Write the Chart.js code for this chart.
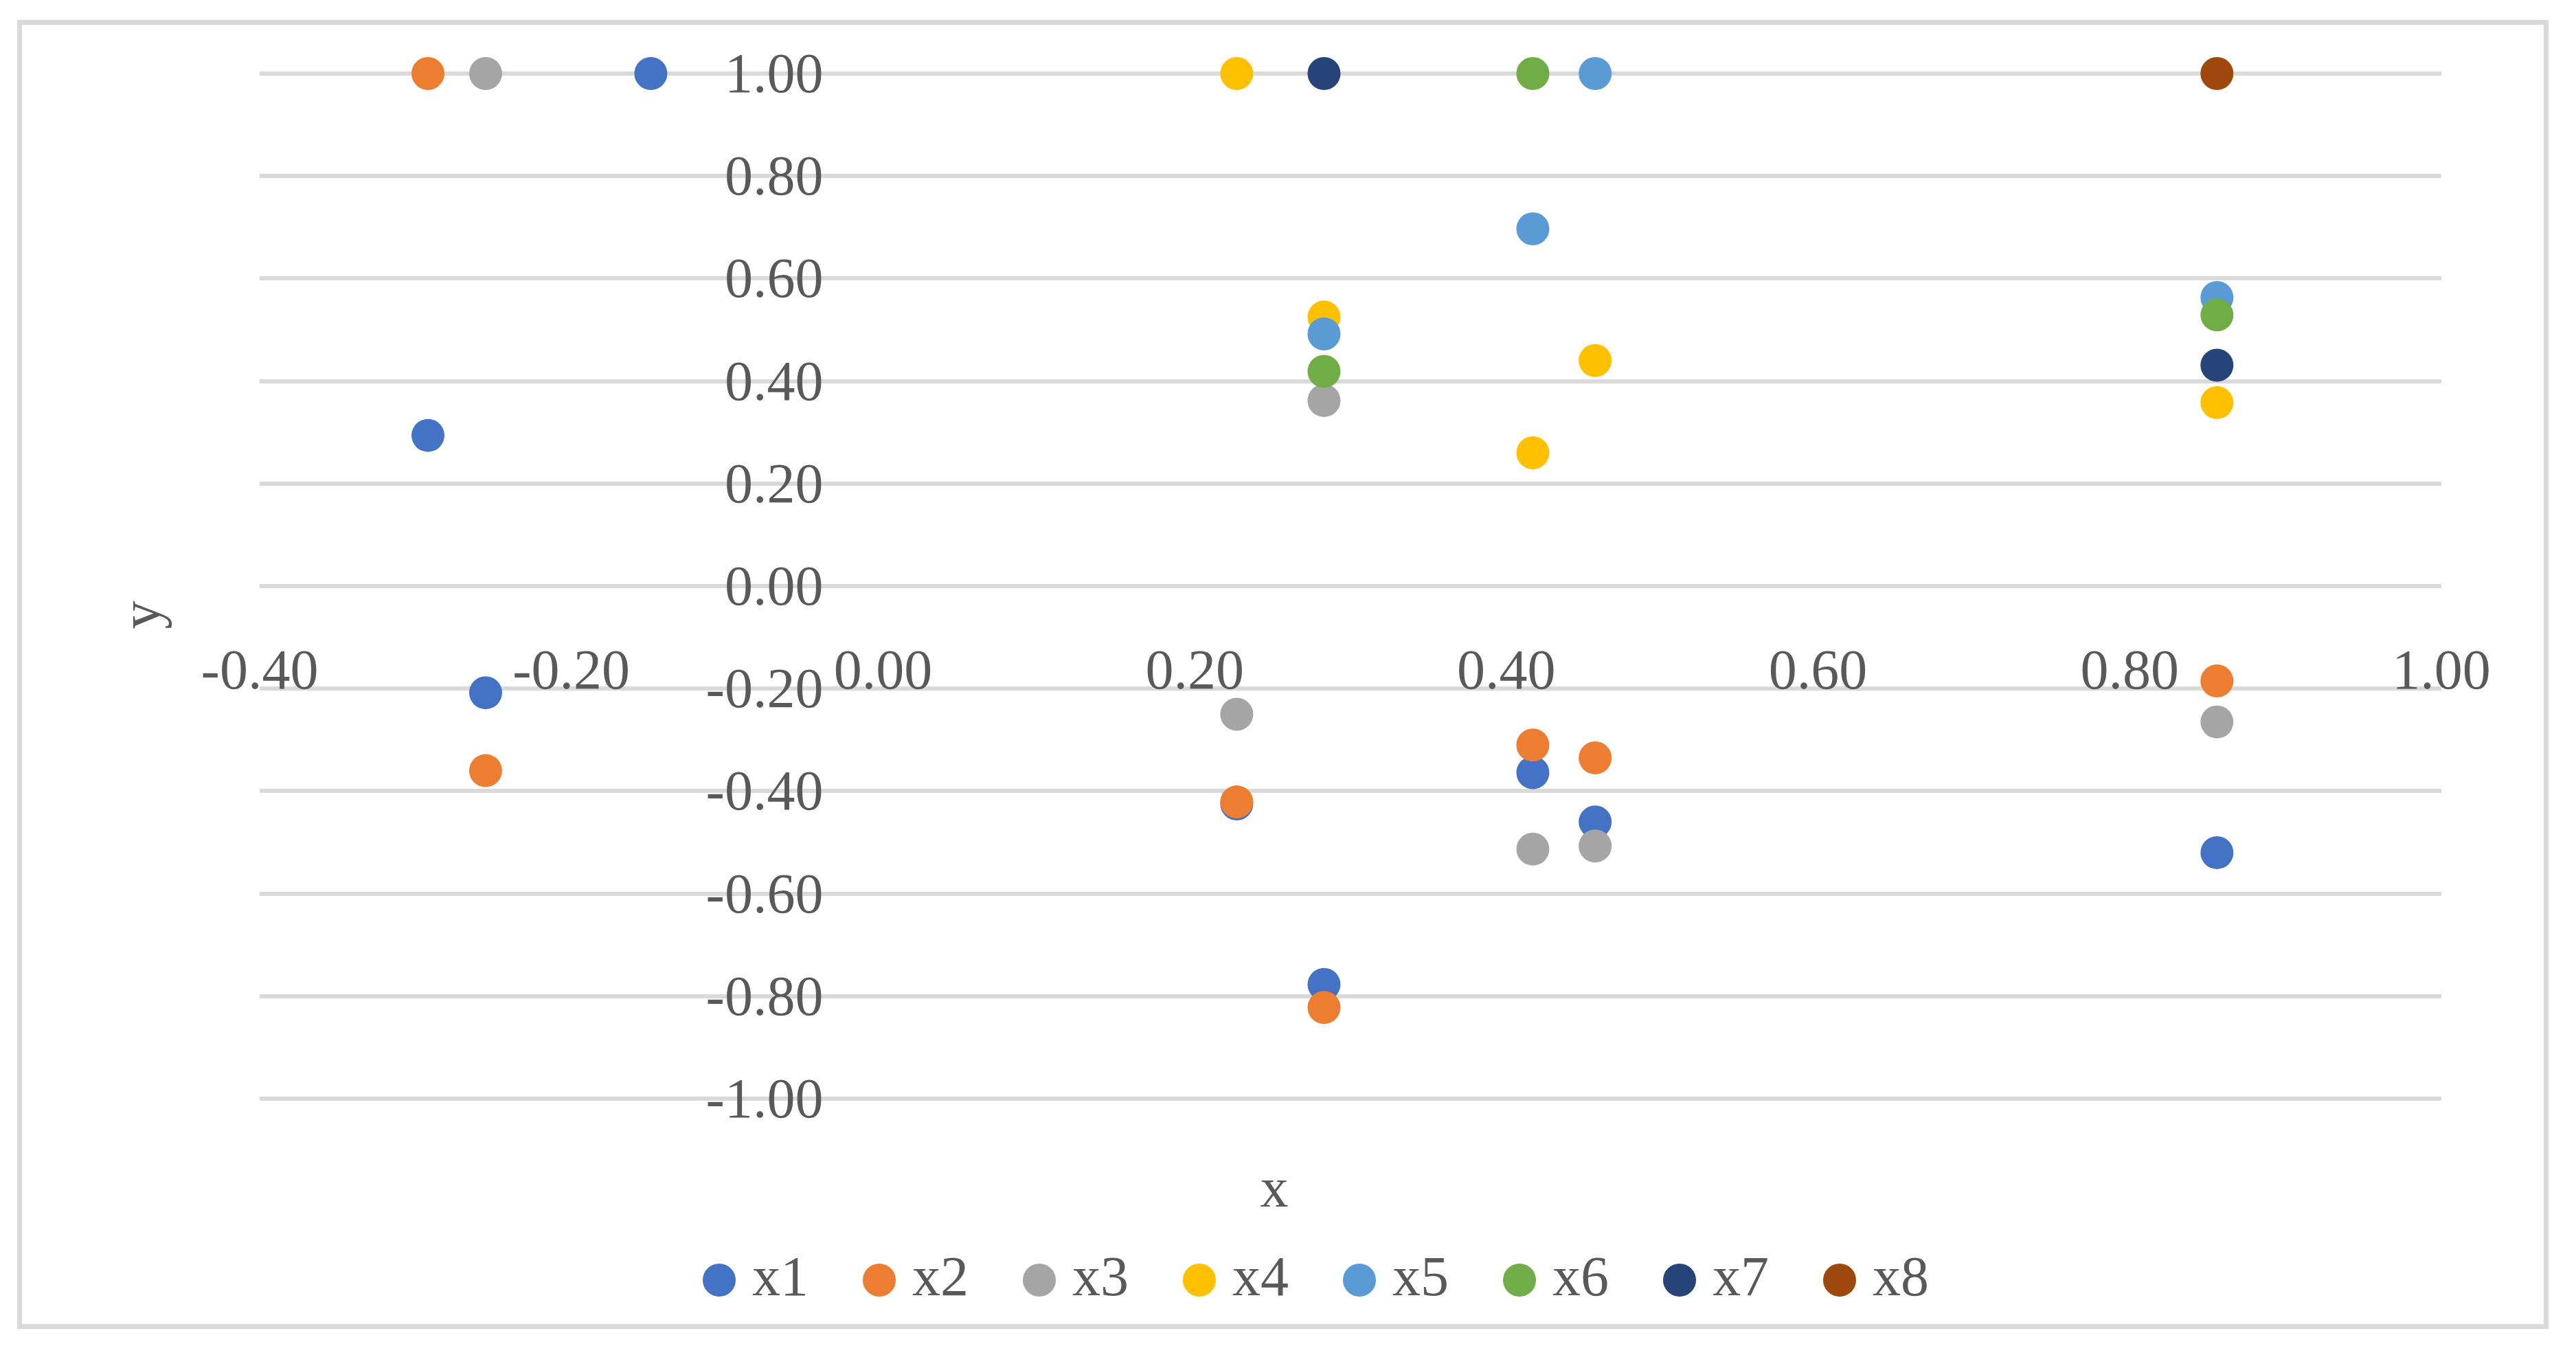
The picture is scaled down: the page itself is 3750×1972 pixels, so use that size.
<!DOCTYPE html>
<html>
<head>
<meta charset="utf-8">
<title>Scatter x1 - x8</title>
<script src="https://cdn.jsdelivr.net/npm/chart.js@4.4.1/dist/chart.umd.min.js"></script>
<style>
  html, body { margin:0; padding:0; background:#fff; overflow:hidden; }
  canvas { position:absolute; left:0; top:0; }
  /* light grey chart frame */
  #frame { position:absolute; left:25px; top:29px; width:3685px; height:1905px;
           box-sizing:border-box; border:7px solid #D9D9D9; pointer-events:none; }
</style>
</head>
<body>
<canvas id="chart" width="3750" height="1972"></canvas>
<div id="frame"></div>
<script>
// --------------------- Data ---------------------
const seriesNames  = ["x1", "x2", "x3", "x4", "x5", "x6", "x7", "x8"];
const seriesColors = ["#4472C4", "#ED7D31", "#A5A5A5", "#FFC000", "#5B9BD5", "#70AD47", "#264478", "#9E480E"];

const x1X = [-0.292, -0.255, -0.149, 0.227, 0.283, 0.417, 0.457, 0.856];
const x1Y = [ 0.294, -0.208,  1.000, -0.425, -0.777, -0.364, -0.460, -0.520];

const x2X = [-0.292, -0.255, 0.227, 0.283, 0.417, 0.457, 0.856];
const x2Y = [ 1.000, -0.360, -0.421, -0.822, -0.310, -0.335, -0.185];

const x3X = [-0.255, 0.227, 0.283, 0.417, 0.457, 0.856];
const x3Y = [ 1.000, -0.250, 0.362, -0.513, -0.507, -0.265];

const x4X = [0.227, 0.283, 0.417, 0.457, 0.856];
const x4Y = [1.000, 0.525, 0.260, 0.440, 0.358];

const x5X = [0.283, 0.417, 0.457, 0.856];
const x5Y = [0.492, 0.697, 1.000, 0.563];

const x6X = [0.283, 0.417, 0.856];
const x6Y = [0.419, 1.000, 0.529];

const x7X = [0.283, 0.856];
const x7Y = [1.000, 0.431];

const x8X = [0.856];
const x8Y = [1.000];

const xTicks = [-0.4, -0.2, 0, 0.2, 0.4, 0.6, 0.8, 1.0];
const yTicks = [-1, -0.8, -0.6, -0.4, -0.2, 0, 0.2, 0.4, 0.6, 0.8, 1];

const xTitle = "x";
const yTitle = "y";

// --------------------- Style ---------------------
const FONT = '"Liberation Serif", "Times New Roman", serif';
const FONT_SIZE = 82;
const TEXT = "#595959";
const GRID = "#D9D9D9";

const fmt = (v) => v.toFixed(2);
const toPoints = (xs, ys) => xs.map((x, i) => ({ x, y: ys[i] }));

const seriesData = [
  toPoints(x1X, x1Y), toPoints(x2X, x2Y), toPoints(x3X, x3Y), toPoints(x4X, x4Y),
  toPoints(x5X, x5Y), toPoints(x6X, x6Y), toPoints(x7X, x7Y), toPoints(x8X, x8Y)
];

// later series are painted over earlier ones (like the original)
const datasets = seriesNames.map((name, i) => ({
  label: name,
  data: seriesData[i],
  backgroundColor: seriesColors[i],
  borderWidth: 0,
  pointRadius: 24,
  pointHoverRadius: 24,
  pointStyle: "circle",
  order: seriesNames.length - 1 - i,
  clip: false
}));

// --------------------- Axis labels plugin ---------------------
// axes cross at (0,0): tick labels hang off the zero lines
const axisText = {
  id: "axisText",
  beforeDatasetsDraw(chart) {
    const { ctx, scales: { x, y } } = chart;
    const x0 = x.getPixelForValue(0);
    const y0 = y.getPixelForValue(0);
    ctx.save();
    ctx.fillStyle = TEXT;
    ctx.font = `${FONT_SIZE}px ${FONT}`;
    ctx.textBaseline = "alphabetic";

    ctx.textAlign = "right";
    yTicks.forEach(v => ctx.fillText(fmt(v), x0 - 87, y.getPixelForValue(v) + 27));

    ctx.textAlign = "center";
    xTicks.forEach(v => ctx.fillText(fmt(v), x.getPixelForValue(v), y0 + 149));

    // axis titles
    ctx.fillText(xTitle, 1855, 1756);
    ctx.translate(232, 895);
    ctx.rotate(-Math.PI / 2);
    ctx.fillText(yTitle, 0, 0);
    ctx.restore();
  }
};

// --------------------- Chart ---------------------
new Chart(document.getElementById("chart").getContext("2d"), {
  type: "scatter",
  data: { datasets },
  options: {
    responsive: false,
    animation: false,
    devicePixelRatio: 1,
    layout: { padding: { left: 98, right: 0, top: 107, bottom: 58 } },
    scales: {
      x: {
        type: "linear", position: "bottom", min: -0.4, max: 1.0,
        grid: { display: false }, border: { display: false }, ticks: { display: false },
        afterFit: (s) => { s.height = 127; }
      },
      y: {
        type: "linear", position: "left", min: -1, max: 1,
        grid: { color: GRID, lineWidth: 6, drawTicks: false },
        border: { display: false }, ticks: { display: false },
        afterBuildTicks: (s) => { s.ticks = yTicks.map(v => ({ value: v })); },
        afterFit: (s) => { s.width = 280; }
      },
      // empty right gutter so the plot stops where the original does
      gutter: {
        type: "linear", position: "right",
        grid: { display: false }, border: { display: false }, ticks: { display: false },
        afterFit: (s) => { s.width = 196; }
      }
    },
    plugins: {
      legend: {
        position: "bottom",
        labels: {
          usePointStyle: true,
          pointStyle: "circle",
          boxHeight: 34,
          boxWidth: 14,
          padding: 96,
          color: TEXT,
          font: { family: FONT, size: FONT_SIZE },
          sort: (a, b) => a.datasetIndex - b.datasetIndex
        }
      },
      tooltip: { enabled: false }
    }
  },
  plugins: [axisText]
});
</script>
</body>
</html>
